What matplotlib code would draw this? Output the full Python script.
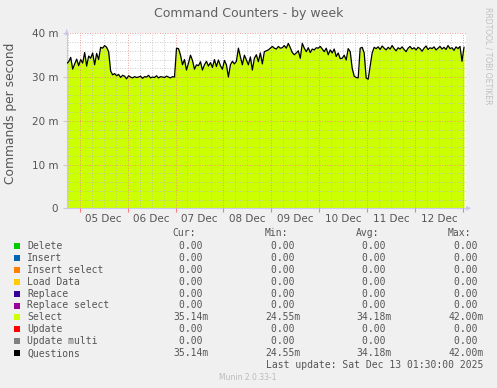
import numpy as np
import matplotlib
matplotlib.use('Agg')
import matplotlib.pyplot as plt
from matplotlib.ticker import FixedLocator, FixedFormatter, MultipleLocator

# hourly samples (milli-commands per second), starting Dec 4 17:30
select_vals = [
    33.1, 33.5, 34.5, 31.8, 33.0, 34.1, 32.6, 34.0, 33.2, 35.6,
    32.5, 34.8, 34.3, 35.5, 32.8, 35.4, 34.0, 36.8, 36.6, 37.2,
    36.8, 35.8, 31.4, 30.5,
    30.8, 30.3, 30.6, 29.9, 30.4, 30.2, 29.6, 30.3, 30.0, 29.8,
    30.1, 29.9, 30.0, 30.2, 29.7, 30.1, 30.0, 30.4, 29.8, 30.0,
    29.9, 30.3, 29.8, 30.1, 30.0, 29.9, 30.2, 30.0, 29.8, 30.1, 30.0,
    36.6, 36.5, 35.0, 32.8, 34.0, 31.6, 33.2, 35.0, 33.8, 31.8,
    32.8, 32.6, 33.5, 31.6, 32.8, 33.6, 32.5, 33.3, 32.2, 34.0,
    32.4, 33.9, 32.6, 31.8, 33.8, 32.8, 30.0, 32.8, 33.6, 33.0,
    33.6, 36.6, 34.6, 32.8, 35.0, 33.9, 32.8, 34.6, 31.6, 34.3,
    35.1, 33.5, 35.5, 33.0, 35.8, 36.0, 36.2, 36.6, 37.0, 36.6,
    36.4, 37.0, 36.6, 36.7, 37.2, 36.6, 37.7, 36.7, 35.6, 35.1,
    35.5, 36.0, 34.3, 37.7, 36.6, 35.8, 36.7, 35.6, 36.4, 36.2,
    36.7, 36.6, 37.0, 36.4, 35.8, 36.6, 35.1, 36.2, 35.5, 36.4,
    34.7, 35.5, 34.2, 34.3, 35.0, 33.9, 36.5, 35.8, 32.0, 30.2,
    29.9, 29.8, 36.6, 36.8, 35.5, 29.8, 29.5, 32.5, 35.5, 36.8,
    36.5, 36.9, 36.3, 37.1, 36.6, 36.2, 36.8, 36.4, 37.2, 36.5,
    36.0, 36.7, 36.4, 36.9, 36.3, 35.8, 36.6, 37.0, 36.4, 36.7,
    36.2, 36.8, 36.5, 35.9, 36.6, 37.1, 36.3, 36.7, 36.5, 36.9,
    36.2, 36.6, 37.0, 36.4, 36.8, 36.3, 37.2, 36.5, 36.7, 36.1,
    36.9, 36.5, 37.0, 33.6, 36.8,
]

day_labels = ['05 Dec', '06 Dec', '07 Dec', '08 Dec', '09 Dec', '10 Dec', '11 Dec', '12 Dec']
y_labels = ['0', '10 m', '20 m', '30 m', '40 m']

legend_names = ['Delete', 'Insert', 'Insert select', 'Load Data', 'Replace',
                'Replace select', 'Select', 'Update', 'Update multi', 'Questions']
legend_colors = ['#00CC00', '#0066B3', '#FF8000', '#FFCC00', '#330099',
                 '#990099', '#CCFF00', '#FF0000', '#808080', '#000000']
cur_vals = ['0.00 ', '0.00 ', '0.00 ', '0.00 ', '0.00 ', '0.00 ', '35.14m', '0.00 ', '0.00 ', '35.14m']
min_vals = ['0.00 ', '0.00 ', '0.00 ', '0.00 ', '0.00 ', '0.00 ', '24.55m', '0.00 ', '0.00 ', '24.55m']
avg_vals = ['0.00 ', '0.00 ', '0.00 ', '0.00 ', '0.00 ', '0.00 ', '34.18m', '0.00 ', '0.00 ', '34.18m']
max_vals = ['0.00 ', '0.00 ', '0.00 ', '0.00 ', '0.00 ', '0.00 ', '42.00m', '0.00 ', '0.00 ', '42.00m']

start = 4 + 17.5 / 24
end = 13 + 1.5 / 24
t = start + np.arange(len(select_vals)) / 24.0
v = np.array(select_vals)

W, H = 497, 388
fig = plt.figure(figsize=(W / 100, H / 100), dpi=100, facecolor='#F0F0F0')

def fx(px):
    return px / W

def fy(py):
    return 1 - py / H

left, right, top, bottom = 66.7, 466, 33.3, 208.3
ax = fig.add_axes([fx(left), fy(bottom), fx(right - left), (bottom - top) / H])
ax.set_facecolor('white')

ax.fill_between(t, v, color='#CCFF00', lw=0, zorder=1)
ax.plot(t, v, color='black', lw=0.9, zorder=3)

ax.set_xlim(start, end)
ax.set_ylim(0, 40)

days = np.arange(5, 14)
ax.xaxis.set_major_locator(FixedLocator(days))
ax.xaxis.set_major_formatter(FixedFormatter([''] * len(days)))
minor_pos = []
minor_lab = []
for d in range(4, 14):
    for q, lab in ((0.25, ''), (0.5, 'x'), (0.75, '')):
        p = d + q
        if start <= p <= end:
            minor_pos.append(p)
            minor_lab.append(lab)
labs = iter(day_labels)
minor_lab = [next(labs) if l == 'x' else '' for l in minor_lab]
ax.xaxis.set_minor_locator(FixedLocator(minor_pos))
ax.xaxis.set_minor_formatter(FixedFormatter(minor_lab))

ax.yaxis.set_major_locator(FixedLocator([0, 10, 20, 30, 40]))
ax.yaxis.set_major_formatter(FixedFormatter(y_labels))
ax.yaxis.set_minor_locator(MultipleLocator(2))

ax.set_axisbelow(False)
ax.grid(which='minor', color='#bbbbbb', ls=(0, (1, 2)), lw=0.6, zorder=2)
ax.grid(which='major', color='#f08080', ls=(0, (1, 2)), lw=0.6, zorder=2)

ax.tick_params(axis='x', which='major', length=3, color='#f08080', width=0.8)
ax.tick_params(axis='x', which='minor', length=0, labelsize=7.5, labelcolor='#555555', pad=4)
ax.tick_params(axis='y', which='major', length=3, color='#cccccc', labelsize=7.5,
               labelcolor='#555555', pad=3)
ax.tick_params(axis='y', which='minor', length=0)

for s in ('top', 'right'):
    ax.spines[s].set_visible(False)
for s in ('left', 'bottom'):
    ax.spines[s].set_color('#c8c8f0')
    ax.spines[s].set_linewidth(0.8)

# axis arrows
ax.annotate('', xy=(fx(471), fy(bottom)), xytext=(fx(right), fy(bottom)), xycoords='figure fraction',
            arrowprops=dict(arrowstyle='-|>', color='#c8c8f0', lw=0.8, mutation_scale=6))
ax.annotate('', xy=(fx(left), fy(27)), xytext=(fx(left), fy(top)), xycoords='figure fraction',
            arrowprops=dict(arrowstyle='-|>', color='#c8c8f0', lw=0.8, mutation_scale=6))

fig.text(fx(249), fy(13), 'Command Counters - by week', ha='center', va='center',
         fontsize=9, color='#606060')
fig.text(fx(11), fy(113), 'Commands per second', rotation=90, ha='center', va='center',
         fontsize=8.8, color='#555555')
fig.text(fx(488), fy(56), 'RRDTOOL / TOBI OETIKER', rotation=270, ha='center', va='center',
         fontsize=5.5, color='#c0c0c0')

mono = 'DejaVu Sans Mono'
fs = 7
col_right = [208.3, 300.7, 391.7, 483.3]
headers = ['Cur:', 'Min:', 'Avg:', 'Max:']
header_left = [172.7, 265, 356, 448]
for hx, h in zip(header_left, headers):
    fig.text(fx(hx), fy(233.3), h, ha='left', va='center', family=mono, fontsize=fs, color='#555555')

row0, step = 245.7, 11.96
for i, name in enumerate(legend_names):
    yy = row0 + i * step
    fig.patches.append(plt.Rectangle((fx(14), fy(yy + 3)), fx(6), 6 / H, transform=fig.transFigure,
                                     facecolor=legend_colors[i], edgecolor='none'))
    fig.text(fx(27), fy(yy), name, ha='left', va='center', family=mono, fontsize=fs, color='#555555')
    for cx, col in zip(col_right, (cur_vals, min_vals, avg_vals, max_vals)):
        fig.text(fx(cx), fy(yy), col[i], ha='right', va='center', family=mono, fontsize=fs,
                 color='#555555')

fig.text(fx(483), fy(365), 'Last update: Sat Dec 13 01:30:00 2025', ha='right', va='center',
         family=mono, fontsize=fs, color='#555555')
fig.text(fx(248), fy(377), 'Munin 2.0.33-1', ha='center', va='center', fontsize=5.5, color='#bbbbbb')

fig.savefig('out.png', dpi=100, facecolor=fig.get_facecolor())
